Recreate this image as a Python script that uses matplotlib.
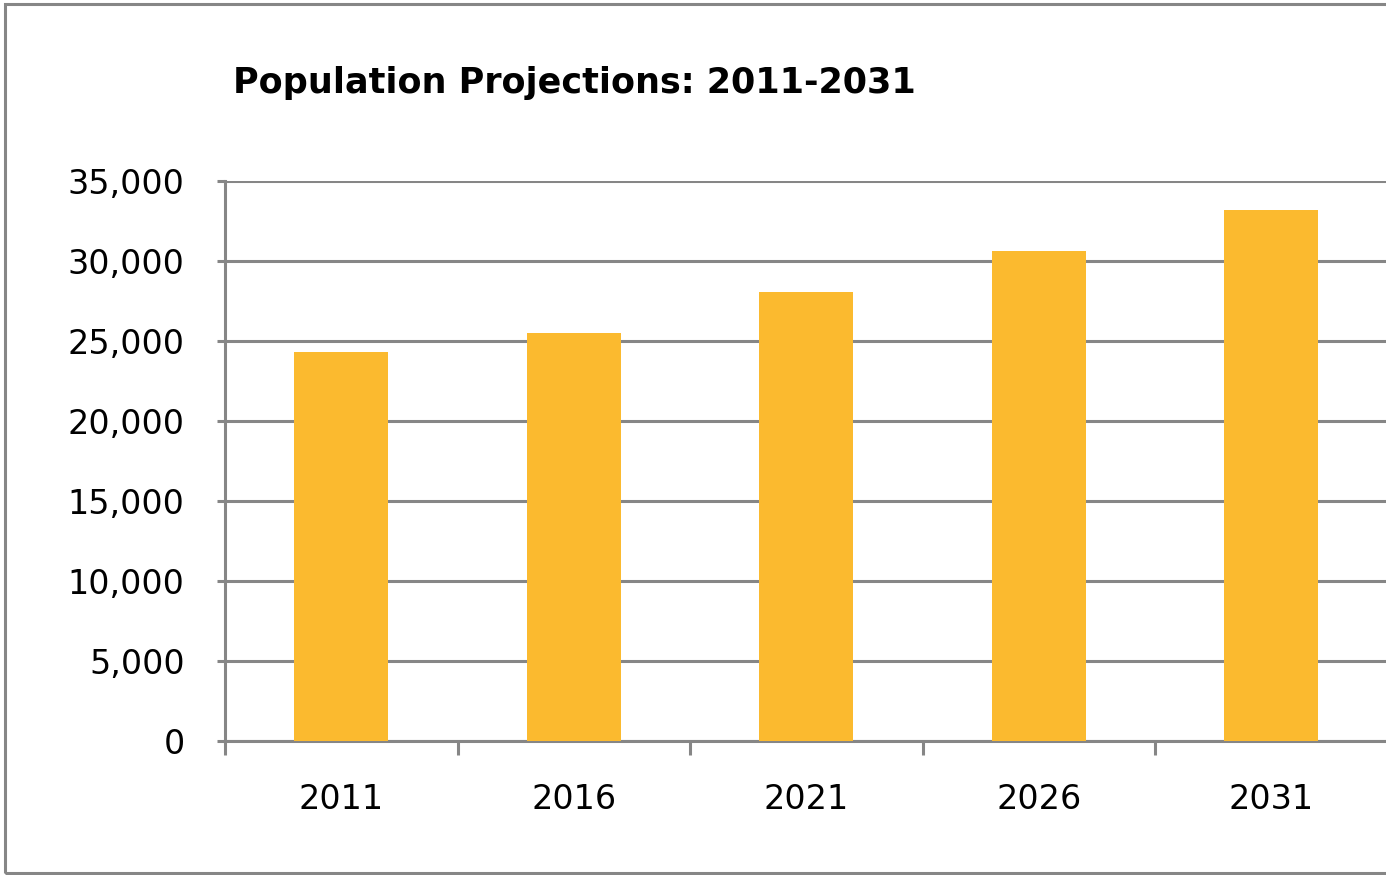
import matplotlib
matplotlib.use("Agg")
import matplotlib.pyplot as plt
import numpy as np
from matplotlib.patches import Rectangle
from matplotlib.ticker import FuncFormatter

years = ["2011", "2016", "2021", "2026", "2031"]
population = [24300, 25500, 28050, 30600, 33200]
y_ticks = [0, 5000, 10000, 15000, 20000, 25000, 30000, 35000]

GRID = "#868686"
BAR = "#FBBA2F"

fig = plt.figure(figsize=(13.86, 8.75), dpi=100)
ax = fig.add_axes([225 / 1386, 134 / 875, 1162.5 / 1386, 560 / 875])

x = np.arange(len(years))
ax.bar(x, population, width=0.405, color=BAR, zorder=3)

ax.set_xlim(-0.5, len(years) - 0.5)
ax.set_ylim(0, 35000)
ax.set_yticks(y_ticks)
ax.yaxis.set_major_formatter(FuncFormatter(lambda v, _: f"{int(v):,}"))
ax.grid(axis="y", color=GRID, linewidth=2.2, zorder=1)

# category labels sit between the boundary ticks
ax.set_xticks(x)
ax.set_xticklabels(years)
ax.set_xticks(np.arange(len(years) + 1) - 0.5, minor=True)
ax.tick_params(axis="x", which="major", length=0, pad=30, labelsize=24)
ax.tick_params(axis="x", which="minor", length=10, width=2.2, color=GRID)
ax.tick_params(axis="y", length=6, width=2.2, color=GRID, pad=23, labelsize=24)

for side in ("top", "right"):
    ax.spines[side].set_visible(False)
for side in ("left", "bottom"):
    ax.spines[side].set_color(GRID)
    ax.spines[side].set_linewidth(2.2)

fig.text(574 / 1386, 1 - 83 / 875, "Population Projections: 2011-2031",
         ha="center", va="center", fontsize=25.2, fontweight="bold")

# chart frame
fig.patches.append(Rectangle((5 / 1386, 2 / 875), 1.05, 869 / 875,
                             transform=fig.transFigure, fill=False,
                             edgecolor=GRID, linewidth=2.2, clip_on=False))

fig.savefig("out.png", dpi=100)
